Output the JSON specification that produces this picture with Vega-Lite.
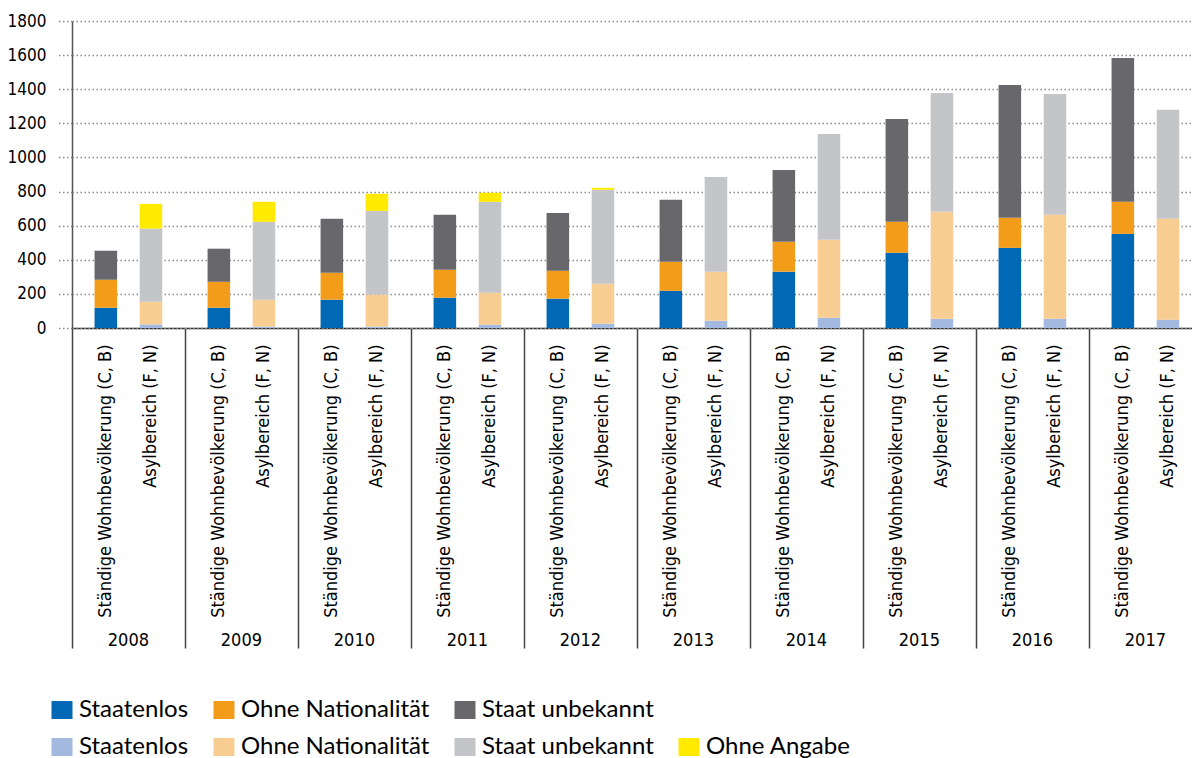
{
  "$schema": "https://vega.github.io/schema/vega-lite/v6.json",
  "padding": {"left": 7, "top": 12, "right": 0, "bottom": 0},
  "background": "white",
  "data": {"values": [
    {"year": 2008, "typ": "Ständige Wohnbevölkerung (C, B)", "kat": "Staatenlos|S", "o": 1, "v": 119},
    {"year": 2008, "typ": "Ständige Wohnbevölkerung (C, B)", "kat": "Ohne Nationalität|S", "o": 2, "v": 164},
    {"year": 2008, "typ": "Ständige Wohnbevölkerung (C, B)", "kat": "Staat unbekannt|S", "o": 3, "v": 170},
    {"year": 2008, "typ": "Asylbereich (F, N)", "kat": "Staatenlos|A", "o": 1, "v": 21},
    {"year": 2008, "typ": "Asylbereich (F, N)", "kat": "Ohne Nationalität|A", "o": 2, "v": 133},
    {"year": 2008, "typ": "Asylbereich (F, N)", "kat": "Staat unbekannt|A", "o": 3, "v": 429},
    {"year": 2008, "typ": "Asylbereich (F, N)", "kat": "Ohne Angabe|A", "o": 4, "v": 145},
    {"year": 2009, "typ": "Ständige Wohnbevölkerung (C, B)", "kat": "Staatenlos|S", "o": 1, "v": 119},
    {"year": 2009, "typ": "Ständige Wohnbevölkerung (C, B)", "kat": "Ohne Nationalität|S", "o": 2, "v": 152},
    {"year": 2009, "typ": "Ständige Wohnbevölkerung (C, B)", "kat": "Staat unbekannt|S", "o": 3, "v": 194},
    {"year": 2009, "typ": "Asylbereich (F, N)", "kat": "Staatenlos|A", "o": 1, "v": 8},
    {"year": 2009, "typ": "Asylbereich (F, N)", "kat": "Ohne Nationalität|A", "o": 2, "v": 158},
    {"year": 2009, "typ": "Asylbereich (F, N)", "kat": "Staat unbekannt|A", "o": 3, "v": 457},
    {"year": 2009, "typ": "Asylbereich (F, N)", "kat": "Ohne Angabe|A", "o": 4, "v": 117},
    {"year": 2010, "typ": "Ständige Wohnbevölkerung (C, B)", "kat": "Staatenlos|S", "o": 1, "v": 166},
    {"year": 2010, "typ": "Ständige Wohnbevölkerung (C, B)", "kat": "Ohne Nationalität|S", "o": 2, "v": 158},
    {"year": 2010, "typ": "Ständige Wohnbevölkerung (C, B)", "kat": "Staat unbekannt|S", "o": 3, "v": 316},
    {"year": 2010, "typ": "Asylbereich (F, N)", "kat": "Staatenlos|A", "o": 1, "v": 8},
    {"year": 2010, "typ": "Asylbereich (F, N)", "kat": "Ohne Nationalität|A", "o": 2, "v": 187},
    {"year": 2010, "typ": "Asylbereich (F, N)", "kat": "Staat unbekannt|A", "o": 3, "v": 492},
    {"year": 2010, "typ": "Asylbereich (F, N)", "kat": "Ohne Angabe|A", "o": 4, "v": 100},
    {"year": 2011, "typ": "Ständige Wohnbevölkerung (C, B)", "kat": "Staatenlos|S", "o": 1, "v": 178},
    {"year": 2011, "typ": "Ständige Wohnbevölkerung (C, B)", "kat": "Ohne Nationalität|S", "o": 2, "v": 164},
    {"year": 2011, "typ": "Ständige Wohnbevölkerung (C, B)", "kat": "Staat unbekannt|S", "o": 3, "v": 322},
    {"year": 2011, "typ": "Asylbereich (F, N)", "kat": "Staatenlos|A", "o": 1, "v": 19},
    {"year": 2011, "typ": "Asylbereich (F, N)", "kat": "Ohne Nationalität|A", "o": 2, "v": 188},
    {"year": 2011, "typ": "Asylbereich (F, N)", "kat": "Staat unbekannt|A", "o": 3, "v": 533},
    {"year": 2011, "typ": "Asylbereich (F, N)", "kat": "Ohne Angabe|A", "o": 4, "v": 53},
    {"year": 2012, "typ": "Ständige Wohnbevölkerung (C, B)", "kat": "Staatenlos|S", "o": 1, "v": 172},
    {"year": 2012, "typ": "Ständige Wohnbevölkerung (C, B)", "kat": "Ohne Nationalität|S", "o": 2, "v": 164},
    {"year": 2012, "typ": "Ständige Wohnbevölkerung (C, B)", "kat": "Staat unbekannt|S", "o": 3, "v": 339},
    {"year": 2012, "typ": "Asylbereich (F, N)", "kat": "Staatenlos|A", "o": 1, "v": 25},
    {"year": 2012, "typ": "Asylbereich (F, N)", "kat": "Ohne Nationalität|A", "o": 2, "v": 235},
    {"year": 2012, "typ": "Asylbereich (F, N)", "kat": "Staat unbekannt|A", "o": 3, "v": 550},
    {"year": 2012, "typ": "Asylbereich (F, N)", "kat": "Ohne Angabe|A", "o": 4, "v": 12},
    {"year": 2013, "typ": "Ständige Wohnbevölkerung (C, B)", "kat": "Staatenlos|S", "o": 1, "v": 218},
    {"year": 2013, "typ": "Ständige Wohnbevölkerung (C, B)", "kat": "Ohne Nationalität|S", "o": 2, "v": 170},
    {"year": 2013, "typ": "Ständige Wohnbevölkerung (C, B)", "kat": "Staat unbekannt|S", "o": 3, "v": 364},
    {"year": 2013, "typ": "Asylbereich (F, N)", "kat": "Staatenlos|A", "o": 1, "v": 43},
    {"year": 2013, "typ": "Asylbereich (F, N)", "kat": "Ohne Nationalität|A", "o": 2, "v": 287},
    {"year": 2013, "typ": "Asylbereich (F, N)", "kat": "Staat unbekannt|A", "o": 3, "v": 556},
    {"year": 2014, "typ": "Ständige Wohnbevölkerung (C, B)", "kat": "Staatenlos|S", "o": 1, "v": 330},
    {"year": 2014, "typ": "Ständige Wohnbevölkerung (C, B)", "kat": "Ohne Nationalität|S", "o": 2, "v": 175},
    {"year": 2014, "typ": "Ständige Wohnbevölkerung (C, B)", "kat": "Staat unbekannt|S", "o": 3, "v": 422},
    {"year": 2014, "typ": "Asylbereich (F, N)", "kat": "Staatenlos|A", "o": 1, "v": 60},
    {"year": 2014, "typ": "Asylbereich (F, N)", "kat": "Ohne Nationalität|A", "o": 2, "v": 457},
    {"year": 2014, "typ": "Asylbereich (F, N)", "kat": "Staat unbekannt|A", "o": 3, "v": 621},
    {"year": 2015, "typ": "Ständige Wohnbevölkerung (C, B)", "kat": "Staatenlos|S", "o": 1, "v": 441},
    {"year": 2015, "typ": "Ständige Wohnbevölkerung (C, B)", "kat": "Ohne Nationalität|S", "o": 2, "v": 182},
    {"year": 2015, "typ": "Ständige Wohnbevölkerung (C, B)", "kat": "Staat unbekannt|S", "o": 3, "v": 603},
    {"year": 2015, "typ": "Asylbereich (F, N)", "kat": "Staatenlos|A", "o": 1, "v": 54},
    {"year": 2015, "typ": "Asylbereich (F, N)", "kat": "Ohne Nationalität|A", "o": 2, "v": 627},
    {"year": 2015, "typ": "Asylbereich (F, N)", "kat": "Staat unbekannt|A", "o": 3, "v": 697},
    {"year": 2016, "typ": "Ständige Wohnbevölkerung (C, B)", "kat": "Staatenlos|S", "o": 1, "v": 470},
    {"year": 2016, "typ": "Ständige Wohnbevölkerung (C, B)", "kat": "Ohne Nationalität|S", "o": 2, "v": 176},
    {"year": 2016, "typ": "Ständige Wohnbevölkerung (C, B)", "kat": "Staat unbekannt|S", "o": 3, "v": 779},
    {"year": 2016, "typ": "Asylbereich (F, N)", "kat": "Staatenlos|A", "o": 1, "v": 54},
    {"year": 2016, "typ": "Asylbereich (F, N)", "kat": "Ohne Nationalität|A", "o": 2, "v": 610},
    {"year": 2016, "typ": "Asylbereich (F, N)", "kat": "Staat unbekannt|A", "o": 3, "v": 708},
    {"year": 2017, "typ": "Ständige Wohnbevölkerung (C, B)", "kat": "Staatenlos|S", "o": 1, "v": 552},
    {"year": 2017, "typ": "Ständige Wohnbevölkerung (C, B)", "kat": "Ohne Nationalität|S", "o": 2, "v": 188},
    {"year": 2017, "typ": "Ständige Wohnbevölkerung (C, B)", "kat": "Staat unbekannt|S", "o": 3, "v": 843},
    {"year": 2017, "typ": "Asylbereich (F, N)", "kat": "Staatenlos|A", "o": 1, "v": 49},
    {"year": 2017, "typ": "Asylbereich (F, N)", "kat": "Ohne Nationalität|A", "o": 2, "v": 591},
    {"year": 2017, "typ": "Asylbereich (F, N)", "kat": "Staat unbekannt|A", "o": 3, "v": 639}
  ]},
  "facet": {
    "column": {
      "field": "year", "type": "ordinal", "title": null,
      "header": {
        "labelOrient": "bottom",
        "labelFont": "DejaVu Sans Condensed, Liberation Sans Narrow, Roboto",
        "labelFontSize": 18,
        "labelColor": "#000",
        "labelPadding": -17
      }
    }
  },
  "spacing": 0,
  "spec": {
    "width": 112.8,
    "height": 307,
    "mark": {"type": "bar"},
    "encoding": {
      "x": {
        "field": "typ", "type": "nominal",
        "scale": {"domain": ["l", "Ständige Wohnbevölkerung (C, B)", "m", "Asylbereich (F, N)", "r"], "paddingInner": 0, "paddingOuter": 0},
        "axis": {
          "title": null,
          "labelAngle": -90,
          "labelExpr": "length(datum.value) > 1 ? datum.value : ''",
          "labelFont": "DejaVu Sans Condensed, Liberation Sans Narrow, Roboto",
          "labelFontSize": 18,
          "labelColor": "#000",
          "labelLimit": 0,
          "labelPadding": -304,
          "bandPosition": 0,
          "tickSize": 320,
          "tickWidth": 1.5,
          "tickColor": {"condition": {"test": "datum.value === 'l'", "value": "#444"}, "value": "transparent"},
          "domainColor": "#333",
          "domainWidth": 1.5,
          "grid": false
        }
      },
      "y": {
        "field": "v", "type": "quantitative", "stack": "zero",
        "scale": {"domain": [0, 1800], "nice": false},
        "axis": {
          "title": null,
          "format": "d",
          "values": [0, 200, 400, 600, 800, 1000, 1200, 1400, 1600, 1800],
          "labelFont": "DejaVu Sans Condensed, Liberation Sans Narrow, Roboto",
          "labelFontSize": 17,
          "labelColor": "#000",
          "labelPadding": 10,
          "tickSize": 16,
          "tickDash": [1.5, 2.5],
          "tickColor": "#8a8a8a",
          "tickWidth": 1.5,
          "grid": true,
          "gridDash": [1.5, 2.5],
          "gridColor": "#8a8a8a",
          "gridWidth": 1.5,
          "domainColor": "#555",
          "domainWidth": 1.5
        }
      },
      "color": {
        "field": "kat", "type": "nominal",
        "scale": {
          "domain": ["Staatenlos|S", "Ohne Nationalität|S", "Staat unbekannt|S", "|", "Staatenlos|A", "Ohne Nationalität|A", "Staat unbekannt|A", "Ohne Angabe|A"],
          "range": ["#0068b4", "#f39c19", "#68676c", "rgba(0,0,0,0)", "#a3b9e0", "#f8cd92", "#c4c5c8", "#ffea00"]
        },
        "legend": {
          "title": null,
          "orient": "none",
          "legendX": -22,
          "legendY": 677,
          "direction": "horizontal",
          "columns": 4,
          "labelExpr": "split(datum.label, '|')[0]",
          "labelFont": "Lato",
          "labelFontSize": 24,
          "labelColor": "#000",
          "labelOffset": 5,
          "labelLimit": 0,
          "columnPadding": 23,
          "rowPadding": 13,
          "symbolType": "M-1,-0.857L1,-0.857L1,0.857L-1,0.857Z",
          "symbolSize": 441,
          "symbolStrokeWidth": 0
        }
      },
      "order": {"field": "o", "type": "quantitative"}
    }
  },
  "config": {
    "view": {"stroke": null}
  }
}
